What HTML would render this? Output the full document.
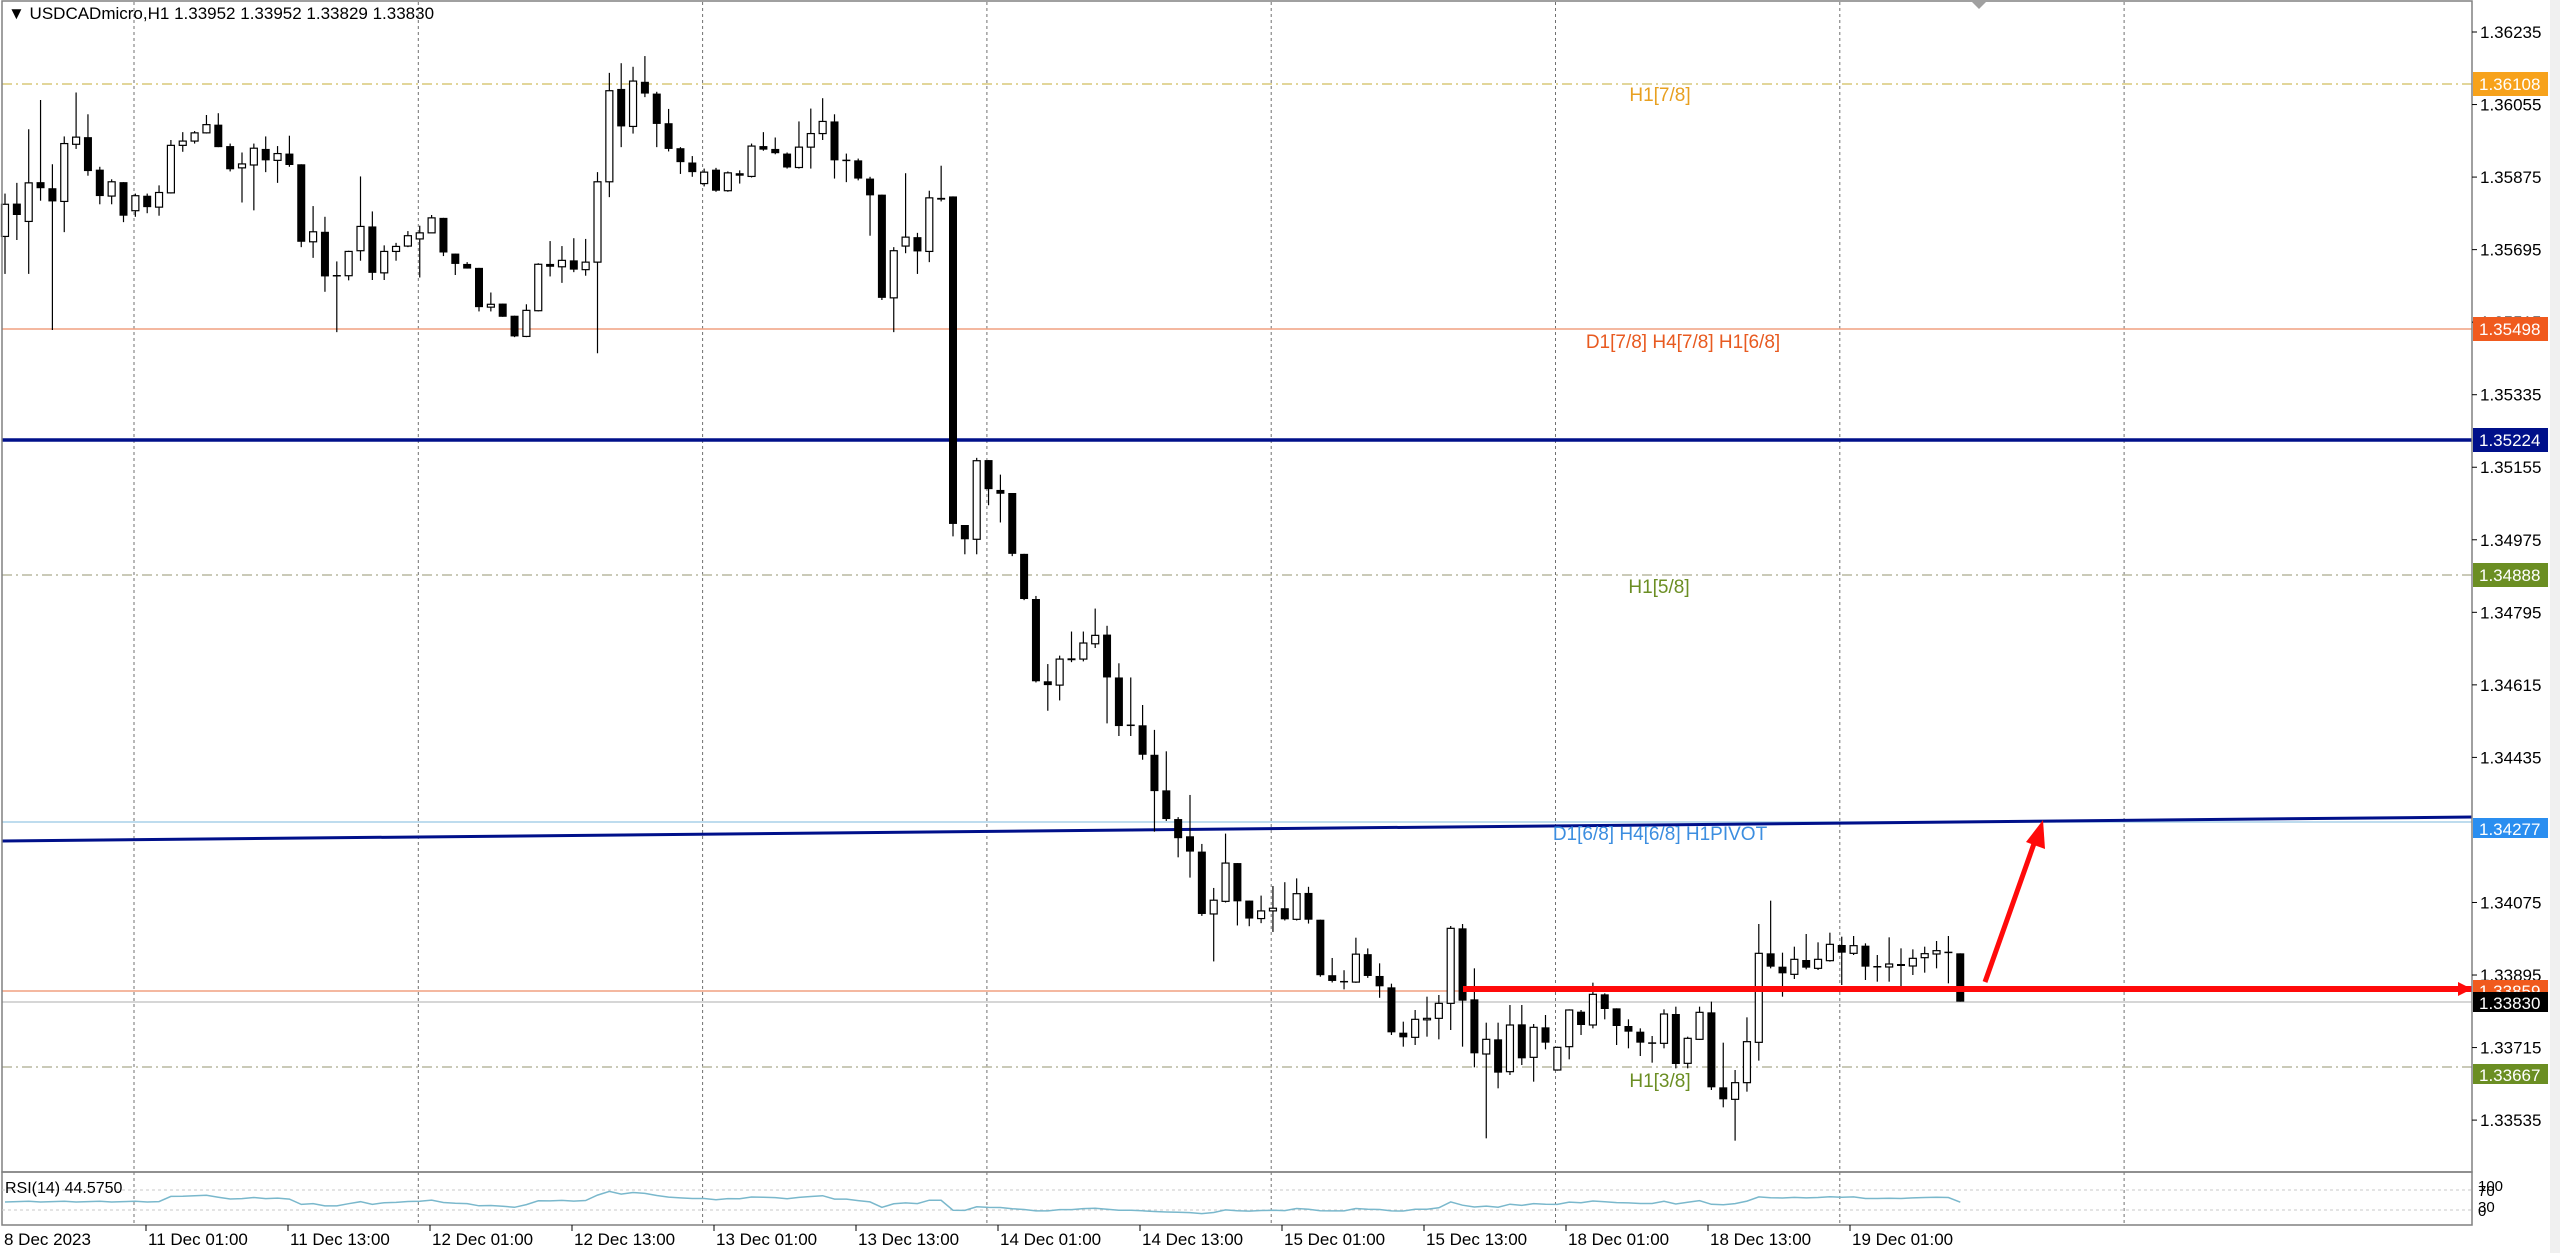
<!DOCTYPE html>
<html><head><meta charset="utf-8">
<style>
html,body{margin:0;padding:0;background:#fff;}
svg{display:block;font-family:"Liberation Sans","DejaVu Sans",sans-serif;}
</style></head>
<body>
<svg id="c" width="2560" height="1253" xmlns="http://www.w3.org/2000/svg">
<rect x="0" y="0" width="2560" height="1253" fill="#fff"/>
<rect x="2550" y="0" width="10" height="1253" fill="#f0f0f0"/>
<g id="grid"></g>
<!-- level lines -->
<line x1="2" y1="84" x2="2472" y2="84" stroke="#d8c878" stroke-width="1.5" stroke-dasharray="10,4,2,4"/>
<line x1="2" y1="329" x2="2472" y2="329" stroke="#f0a080" stroke-width="1.5"/>
<line x1="2" y1="440" x2="2472" y2="440" stroke="#00108a" stroke-width="3.5"/>
<line x1="2" y1="575" x2="2472" y2="575" stroke="#b8b8a0" stroke-width="1.5" stroke-dasharray="10,4,2,4"/>
<line x1="2" y1="822" x2="2472" y2="822" stroke="#a8d0e8" stroke-width="1.5"/>
<line x1="2" y1="841" x2="2472" y2="817" stroke="#00108a" stroke-width="3"/>
<line x1="2" y1="991" x2="2472" y2="991" stroke="#f0a080" stroke-width="1.5"/>
<line x1="2" y1="1002" x2="2472" y2="1002" stroke="#c8c8c8" stroke-width="1.5"/>
<line x1="2" y1="1067" x2="2472" y2="1067" stroke="#b8b8a0" stroke-width="1.5" stroke-dasharray="10,4,2,4"/>
<g id="candles"></g>
<!-- red annotations -->
<line x1="1463" y1="989" x2="2472" y2="989" stroke="#ff0a0a" stroke-width="6"/>
<polygon points="2472,989 2458,982 2458,996" fill="#ff0a0a"/>
<line x1="1985" y1="982" x2="2036" y2="838" stroke="#ff0a0a" stroke-width="5"/>
<polygon points="2043,820 2026,842 2045,849" fill="#ff0a0a"/>
<!-- level labels -->
<text x="1660" y="101" font-size="19" fill="#e8a020" text-anchor="middle">H1[7/8]</text>
<text x="1683" y="348" font-size="19" fill="#e85a20" text-anchor="middle">D1[7/8] H4[7/8] H1[6/8]</text>
<text x="1659" y="593" font-size="19" fill="#6b8e23" text-anchor="middle">H1[5/8]</text>
<text x="1660" y="840" font-size="19" fill="#3c8ee0" text-anchor="middle">D1[6/8] H4[6/8] H1PIVOT</text>
<text x="1660" y="1087" font-size="19" fill="#6b8e23" text-anchor="middle">H1[3/8]</text>
<!-- frame -->
<rect x="2" y="1" width="2470" height="1171" fill="none" stroke="#808080" stroke-width="1.5"/>
<rect x="2" y="1172" width="2470" height="53" fill="none" stroke="#808080" stroke-width="1.5"/>
<line x1="2" y1="1190" x2="2472" y2="1190" stroke="#c8c8c8" stroke-dasharray="3,3"/>
<line x1="2" y1="1210" x2="2472" y2="1210" stroke="#c8c8c8" stroke-dasharray="3,3"/>
<polyline id="rsi" fill="none" stroke="#7ab8cc" stroke-width="1.5" points=""/>
<polygon points="1972,2 1986,2 1979,9" fill="#a0a0a0"/>
<text x="8" y="19" font-size="17" fill="#000">▼ USDCADmicro,H1  1.33952 1.33952 1.33829 1.33830</text>
<text x="5" y="1193" font-size="16" fill="#000">RSI(14) 44.5750</text>
<g id="axis" font-size="17" fill="#000"></g>
<g font-size="17">
<rect x="2473" y="72" width="75" height="24" fill="#f7a21b"/><text x="2479" y="90" fill="#fff">1.36108</text>
<rect x="2473" y="317" width="75" height="24" fill="#f05a1e"/><text x="2479" y="335" fill="#fff">1.35498</text>
<rect x="2473" y="428" width="75" height="24" fill="#00108a"/><text x="2479" y="446" fill="#fff">1.35224</text>
<rect x="2473" y="563" width="75" height="24" fill="#6b8e23"/><text x="2479" y="581" fill="#fff">1.34888</text>
<rect x="2473" y="818" width="75" height="20" fill="#2a8ef0"/><text x="2479" y="835" fill="#fff">1.34277</text>
<rect x="2473" y="980" width="75" height="20" fill="#f05a1e"/><text x="2479" y="997" fill="#fff">1.33859</text>
<rect x="2473" y="992" width="75" height="20" fill="#000"/><text x="2479" y="1009" fill="#fff">1.33830</text>
<rect x="2473" y="1064" width="75" height="20" fill="#6b8e23"/><text x="2479" y="1081" fill="#fff">1.33667</text>
<text x="2478" y="1191" fill="#000" font-size="15">100</text><text x="2478" y="1196" fill="#000" font-size="15">70</text>
<text x="2478" y="1212" fill="#000" font-size="15">30</text><text x="2478" y="1216" fill="#000" font-size="15">0</text>
</g>
</svg>
<script>
var NS="http://www.w3.org/2000/svg";
function el(n,a,p){var e=document.createElementNS(NS,n);for(var k in a)e.setAttribute(k,a[k]);p.appendChild(e);return e;}
// grid
var g=document.getElementById('grid');
for(var k=0;k<8;k++){var x=134+284.3*k;el('line',{x1:x,y1:2,x2:x,y2:1225,stroke:'#707070','stroke-width':1,'stroke-dasharray':'3,3'},g);}
// axis
var ax=document.getElementById('axis');
var pr=["1.36235","1.36055","1.35875","1.35695","1.35515","1.35335","1.35155","1.34975","1.34795","1.34615","1.34435","1.34255","1.34075","1.33895","1.33715","1.33535"];
for(var i=0;i<pr.length;i++){var p=parseFloat(pr[i]);var y=32+(1.36235-p)*40300;
 if(pr[i]=="1.34255")continue;
 el('line',{x1:2472,y1:y,x2:2477,y2:y,stroke:'#000'},ax);
 var t=el('text',{x:2480,y:y+6},ax);t.textContent=pr[i];}
var dl=["8 Dec 2023","11 Dec 01:00","11 Dec 13:00","12 Dec 01:00","12 Dec 13:00","13 Dec 01:00","13 Dec 13:00","14 Dec 01:00","14 Dec 13:00","15 Dec 01:00","15 Dec 13:00","18 Dec 01:00","18 Dec 13:00","19 Dec 01:00"];
for(var i=0;i<dl.length;i++){var x=i==0?4:148+142*(i-1);
 if(i>0)el('line',{x1:x-2,y1:1225,x2:x-2,y2:1231,stroke:'#000'},ax);
 var t=el('text',{x:x,y:1245},ax);t.textContent=dl[i];}
// candles: [type, bodyTop, bodyBot, wickTop, wickBot] in zoom units
var A=[["w",460,550,430,655],["b",458,490,400,560],["w",400,508,250,655],["b",398,415,168,450],["b",415,452,348,812],["w",290,452,270,538],["w",272,292,147,305],["b",272,367,208,380],["b",363,437,355,460],["w",397,437,390,460],["b",398,492,398,510],["w",436,478,430,495],["b",436,468,430,485],["w",427,468,407,492],["w",295,428,280,430],["w",283,295,258,313],["w",260,283,255,290],["w",237,260,210,262],["b",237,300,205,300],["b",297,362,290,368],["w",347,358,315,455],["w",303,350,290,477],["b",305,337,270,370],["w",318,337,297,400],["b",318,350,268,355],["b",348,565,348,580],["w",537,565,465,610],["b",537,662,495,705],["b",658,662,620,818],["w",592,660,590,673],["w",522,590,382,618],["b",522,652,480,672],["w",592,652,575,672],["w",578,592,568,618],["w",548,577,535,580],["w",540,557,520,665],["w",498,540,490,540],["b",498,595,498,605],["b",598,627,598,658],["b",627,640,622,640],["b",638,748,638,760],["w",740,748,707,760],["b",738,775,738,775],["b",772,830,772,832],["w",757,830,740,832],["w",628,758,625,760],["b",627,635,563,662],["w",617,635,577,680],["b",617,643,555,650],["w",622,643,557,660],["w",397,622,370,877],["w",142,397,92,440],["b",137,242,65,300],["w",115,242,75,262],["b",117,150,45,160],["b",150,235,145,300],["b",233,305,193,312],["b",303,342,300,375],["b",343,370,325,383],["w",370,402,360,410],["b",363,422,358,425],["w",372,422,368,425],["b",373,380,365,402],["w",297,382,290,385],["b",297,307,258,310],["b",305,317,273,320],["b",318,357,315,360],["w",300,357,228,360],["w",262,300,192,360],["w",228,262,163,280],["b",228,337,208,388],["b",335,337,318,398],["b",337,388,332,393],["b",388,435,383,548],["b",433,722,433,728],["w",590,722,580,818],["w",552,577,373,597],["b",552,592,540,655],["w",442,592,422,622],["b",442,447,352,452],["b",438,1355,438,1390],["b",1358,1398,1358,1440],["w",1178,1398,1170,1440]];
var B=[["b",157,233,157,275],["b",235,245,195,320],["b",243,402,243,408],["b",402,520,402,523],["b",520,735,512,738],["b",735,745,690,812],["w",677,745,668,785],["b",675,680,605,685],["w",635,677,605,683],["w",615,637,545,648],["b",613,725,590,845],["b",725,852,688,878],["b",848,852,725,878],["b",850,927,797,940],["b",927,1022,862,1128],["b",1020,1095,918,1100],["b",1095,1145,1090,1195],["b",1140,1180,1032,1248],["b",1180,1343,1160,1348],["w",1307,1343,1275,1467],["w",1210,1310,1133,1313],["b",1210,1310,1210,1373],["b",1308,1355,1308,1375],["w",1335,1355,1295,1367],["w",1328,1335,1270,1390],["b",1328,1357,1260,1360],["w",1290,1357,1250,1360],["b",1288,1358,1272,1368],["b",1358,1503,1358,1507],["b",1503,1518,1458,1522],["b",1518,1521,1490,1540],["w",1448,1521,1405,1523],["b",1448,1505,1433,1510],["b",1505,1532,1472,1562]];
var C=[["b",622,757,611,765],["b",758,772,725,800],["w",718,772,690,795],["w",715,718,650,770],["w",670,715,645,778],["w",445,670,438,750],["b",445,662,432,800],["b",658,820,565,862],["w",778,822,728,1075],["b",778,878,728,925],["w",735,875,675,885],["b",733,835,675,855],["w",742,832,732,905],["b",742,788,705,808],["w",802,870,800,872],["w",690,800,688,838],["b",695,735,690,765],["w",643,735,608,745],["b",643,687,640,718],["b",685,738,685,795],["b",738,755,718,805],["b",755,788,745,828],["b",787,789,768,848],["w",702,790,688,805],["b",702,852,680,865],["w",775,850,770,865],["w",697,778,680,780],["b",697,922,665,930],["b",922,958,788,982],["w",908,958,870,1082],["w",785,908,712,935],["w",520,787,432,842],["b",520,560,362,565],["b",560,580,518,650],["w",538,583,500,597],["b",540,563,462,568],["w",538,565,487,570],["w",493,542,458,545],["b",495,518,470,615],["w",497,520,468,525],["b",497,560,490,600],["b",558,561,525,605],["w",552,561,472,605],["b",552,558,505,620],["w",535,558,508,585],["w",521,533,500,578],["w",512,522,483,565],["b",515,518,468,610],["b",520,665,520,665]];
var bars=[];
A.forEach(function(c){bars.push([c[0],40+c[1]/2.8,40+c[2]/2.8,40+c[3]/2.8,40+c[4]/2.8]);});
B.forEach(function(c){bars.push([c[0],400+c[1]/2.613,400+c[2]/2.613,400+c[3]/2.613,400+c[4]/2.613]);});
C.forEach(function(c){bars.push([c[0],780+c[1]/3,780+c[2]/3,780+c[3]/3,780+c[4]/3]);});
var cg=document.getElementById('candles');
var closes=[];
bars.forEach(function(b,i){var x=5+11.85*i;
 el('line',{x1:x,y1:b[3],x2:x,y2:b[4],stroke:'#000','stroke-width':1.2},cg);
 var h=Math.max(b[2]-b[1],1.5);
 if(b[0]=='b')el('rect',{x:x-4,y:b[1],width:8,height:h,fill:'#000'},cg);
 else el('rect',{x:x-3.5,y:b[1],width:7,height:h,fill:'#fff',stroke:'#000','stroke-width':1.2},cg);
 closes.push(b[0]=='b'?b[2]:b[1]);
});
// RSI
var pts=[],ag=0,al=0,n=14;
for(var i=0;i<closes.length;i++){
 var r=50;
 if(i>0){var d=closes[i-1]-closes[i];var gn=d>0?d:0,ls=d<0?-d:0;
  if(i<=n){ag+=gn/n;al+=ls/n;}else{ag=(ag*(n-1)+gn)/n;al=(al*(n-1)+ls)/n;}
  r=al==0?60:100-100/(1+ag/al);}
 if(i<n)r=45+ (i%3);
 r=50+(r-50)*0.8;
 pts.push((5+11.85*i).toFixed(1)+","+(1225-r*0.5).toFixed(1));}
document.getElementById('rsi').setAttribute('points',pts.join(' '));
</script>
</body></html>
